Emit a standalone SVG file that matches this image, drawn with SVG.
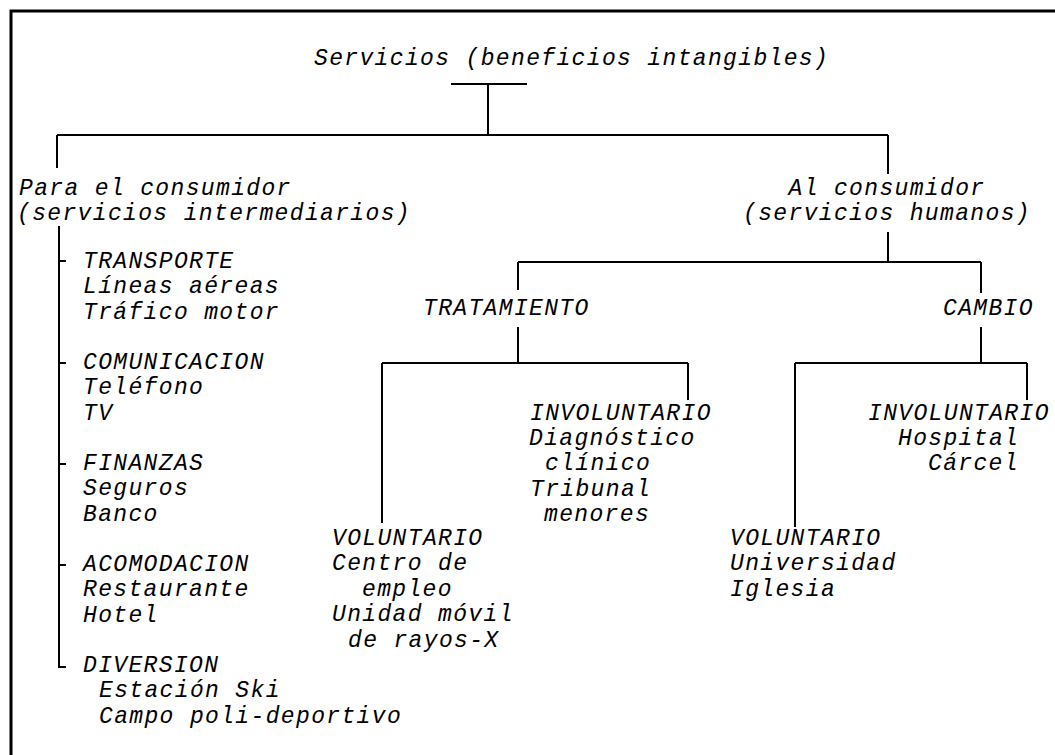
<svg xmlns="http://www.w3.org/2000/svg" width="1055" height="755" viewBox="0 0 1055 755">
  <style>
    .t { font-family: "Liberation Mono", "Courier New", monospace; font-style: italic; font-size: 23px; letter-spacing: 1.35px; fill: #000; }
    .c line { stroke: #000; stroke-width: 2; }
    .frame { stroke: #000; stroke-width: 3; fill: none; }
  </style>
  <rect x="0" y="0" width="1055" height="755" fill="#fff"/>
  <path class="frame" d="M11,755 V11 H1055"/>
  <g id="connectors" class="c">
    <line x1="451" y1="84" x2="527" y2="84"/>
    <line x1="488" y1="84" x2="488" y2="135"/>
    <line x1="57" y1="135" x2="888" y2="135"/>
    <line x1="57" y1="135" x2="57" y2="168"/>
    <line x1="888" y1="135" x2="888" y2="174"/>
    <line x1="59" y1="226" x2="59" y2="667"/>
    <line x1="59" y1="261" x2="66" y2="261"/>
    <line x1="59" y1="363" x2="66" y2="363"/>
    <line x1="59" y1="464" x2="66" y2="464"/>
    <line x1="59" y1="565" x2="66" y2="565"/>
    <line x1="58" y1="667" x2="66" y2="667"/>
    <line x1="888" y1="232" x2="888" y2="262"/>
    <line x1="518" y1="262" x2="981" y2="262"/>
    <line x1="518" y1="262" x2="518" y2="290"/>
    <line x1="981" y1="262" x2="981" y2="293"/>
    <line x1="518" y1="327" x2="518" y2="363"/>
    <line x1="382" y1="363" x2="688" y2="363"/>
    <line x1="382" y1="363" x2="382" y2="523"/>
    <line x1="688" y1="363" x2="688" y2="400"/>
    <line x1="981" y1="327" x2="981" y2="363"/>
    <line x1="795" y1="363" x2="1027" y2="363"/>
    <line x1="795" y1="363" x2="795" y2="527"/>
    <line x1="1027" y1="363" x2="1027" y2="400"/>
  </g>
  <g id="root"><text class="t" x="314" y="65">Servicios (beneficios intangibles)</text></g>
  <g id="para-consumidor">
    <text class="t" x="19" y="195">Para el consumidor</text>
    <text class="t" x="17" y="220">(servicios intermediarios)</text>
  </g>
  <g id="al-consumidor">
    <text class="t" x="887" y="195" text-anchor="middle">Al consumidor</text>
    <text class="t" x="887" y="220" text-anchor="middle">(servicios humanos)</text>
  </g>
  <g id="transporte">
    <text class="t" x="83" y="268">TRANSPORTE</text>
    <text class="t" x="83" y="293">Líneas aéreas</text>
    <text class="t" x="83" y="319">Tráfico motor</text>
  </g>
  <g id="comunicacion">
    <text class="t" x="83" y="369">COMUNICACION</text>
    <text class="t" x="83" y="394">Teléfono</text>
    <text class="t" x="83" y="420">TV</text>
  </g>
  <g id="finanzas">
    <text class="t" x="83" y="470">FINANZAS</text>
    <text class="t" x="83" y="495">Seguros</text>
    <text class="t" x="83" y="521">Banco</text>
  </g>
  <g id="acomodacion">
    <text class="t" x="83" y="571">ACOMODACION</text>
    <text class="t" x="83" y="596">Restaurante</text>
    <text class="t" x="83" y="622">Hotel</text>
  </g>
  <g id="diversion">
    <text class="t" x="83" y="672">DIVERSION</text>
    <text class="t" x="99" y="697">Estación Ski</text>
    <text class="t" x="99" y="723">Campo poli-deportivo</text>
  </g>
  <g id="tratamiento"><text class="t" x="423" y="315">TRATAMIENTO</text></g>
  <g id="cambio"><text class="t" x="943" y="315">CAMBIO</text></g>
  <g id="trat-involuntario">
    <text class="t" x="530" y="420">INVOLUNTARIO</text>
    <text class="t" x="529" y="445">Diagnóstico</text>
    <text class="t" x="545" y="470">clínico</text>
    <text class="t" x="530" y="496">Tribunal</text>
    <text class="t" x="544" y="521">menores</text>
  </g>
  <g id="trat-voluntario">
    <text class="t" x="332" y="545">VOLUNTARIO</text>
    <text class="t" x="332" y="570">Centro de</text>
    <text class="t" x="362" y="596">empleo</text>
    <text class="t" x="332" y="621">Unidad móvil</text>
    <text class="t" x="348" y="647">de rayos-X</text>
  </g>
  <g id="cambio-involuntario">
    <text class="t" x="868" y="420">INVOLUNTARIO</text>
    <text class="t" x="898" y="445">Hospital</text>
    <text class="t" x="928" y="470">Cárcel</text>
  </g>
  <g id="cambio-voluntario">
    <text class="t" x="730" y="545">VOLUNTARIO</text>
    <text class="t" x="730" y="570">Universidad</text>
    <text class="t" x="730" y="596">Iglesia</text>
  </g>
</svg>
